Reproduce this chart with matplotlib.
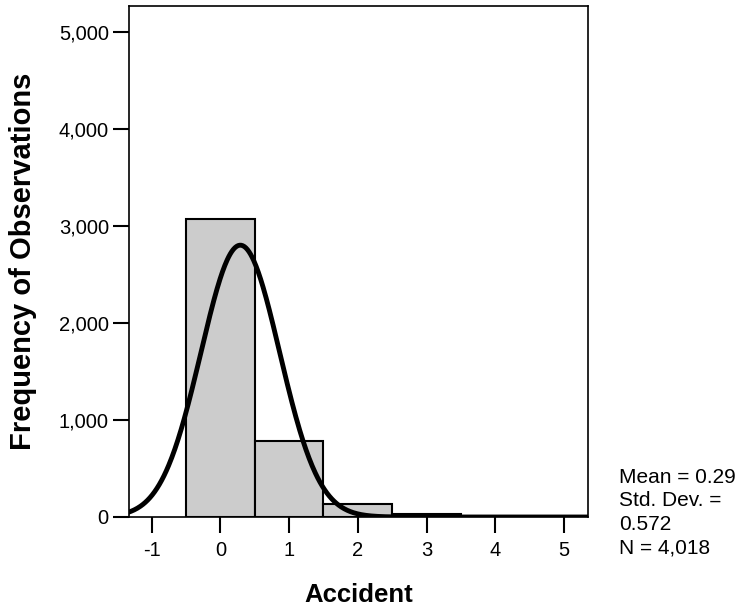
import numpy as np
import matplotlib
matplotlib.use("Agg")
import matplotlib.pyplot as plt

plt.rcParams['font.family'] = ['Liberation Sans', 'DejaVu Sans']

bin_centers = [0, 1, 2, 3, 4, 5]
counts = [3075, 780, 130, 26, 5, 2]
mean_val = 0.29
std_val = 0.572
n_val = 4018
xticks = [-1, 0, 1, 2, 3, 4, 5]
yticks = [0, 1000, 2000, 3000, 4000, 5000]

fig = plt.figure(figsize=(7.43, 6.11), dpi=100)
ax = fig.add_axes([129/743, 1 - 517/611, (588-129)/743, (517-6)/611])

ax.bar(bin_centers, counts, width=1.0, color='#cccccc', edgecolor='black', linewidth=1.5, zorder=2)

xs = np.linspace(-1.4, 5.4, 600)
pdf = n_val * 1.0 / (std_val * np.sqrt(2 * np.pi)) * np.exp(-0.5 * ((xs - mean_val) / std_val) ** 2)
ax.plot(xs, pdf, color='black', linewidth=3.5, zorder=3, solid_capstyle='butt')

ax.set_xlim(-1.33, 5.35)
ax.set_ylim(0, 5268)
ax.set_xticks(xticks)
ax.set_xticklabels([str(t) for t in xticks])
ax.set_yticks(yticks)
ax.set_yticklabels([f"{t:,}" for t in yticks])
ax.tick_params(direction='out', length=11.5, width=1.5, labelsize=14.5)
ax.tick_params(axis='y', pad=3)
ax.tick_params(axis='x', pad=6)
for s in ax.spines.values():
    s.set_linewidth(1.2)

ax.set_xlabel('Accident', fontsize=18.5, fontweight='bold')
ax.xaxis.set_label_coords(0.5, -(602 - 517) / 511, transform=ax.transAxes)
ax.xaxis.label.set_va('baseline')
ax.set_ylabel('Frequency of Observations', fontsize=21, fontweight='bold')
ax.yaxis.set_label_coords(-(129 - 23) / 459, 0.5)
ax.yaxis.label.set_va('center')

fig.text(619/743, 1 - 468/611, 'Mean = 0.29\nStd. Dev. =\n0.572\nN = 4,018',
         fontsize=15, va='top', ha='left', linespacing=1.3)

fig.savefig('out.png', dpi=100)
